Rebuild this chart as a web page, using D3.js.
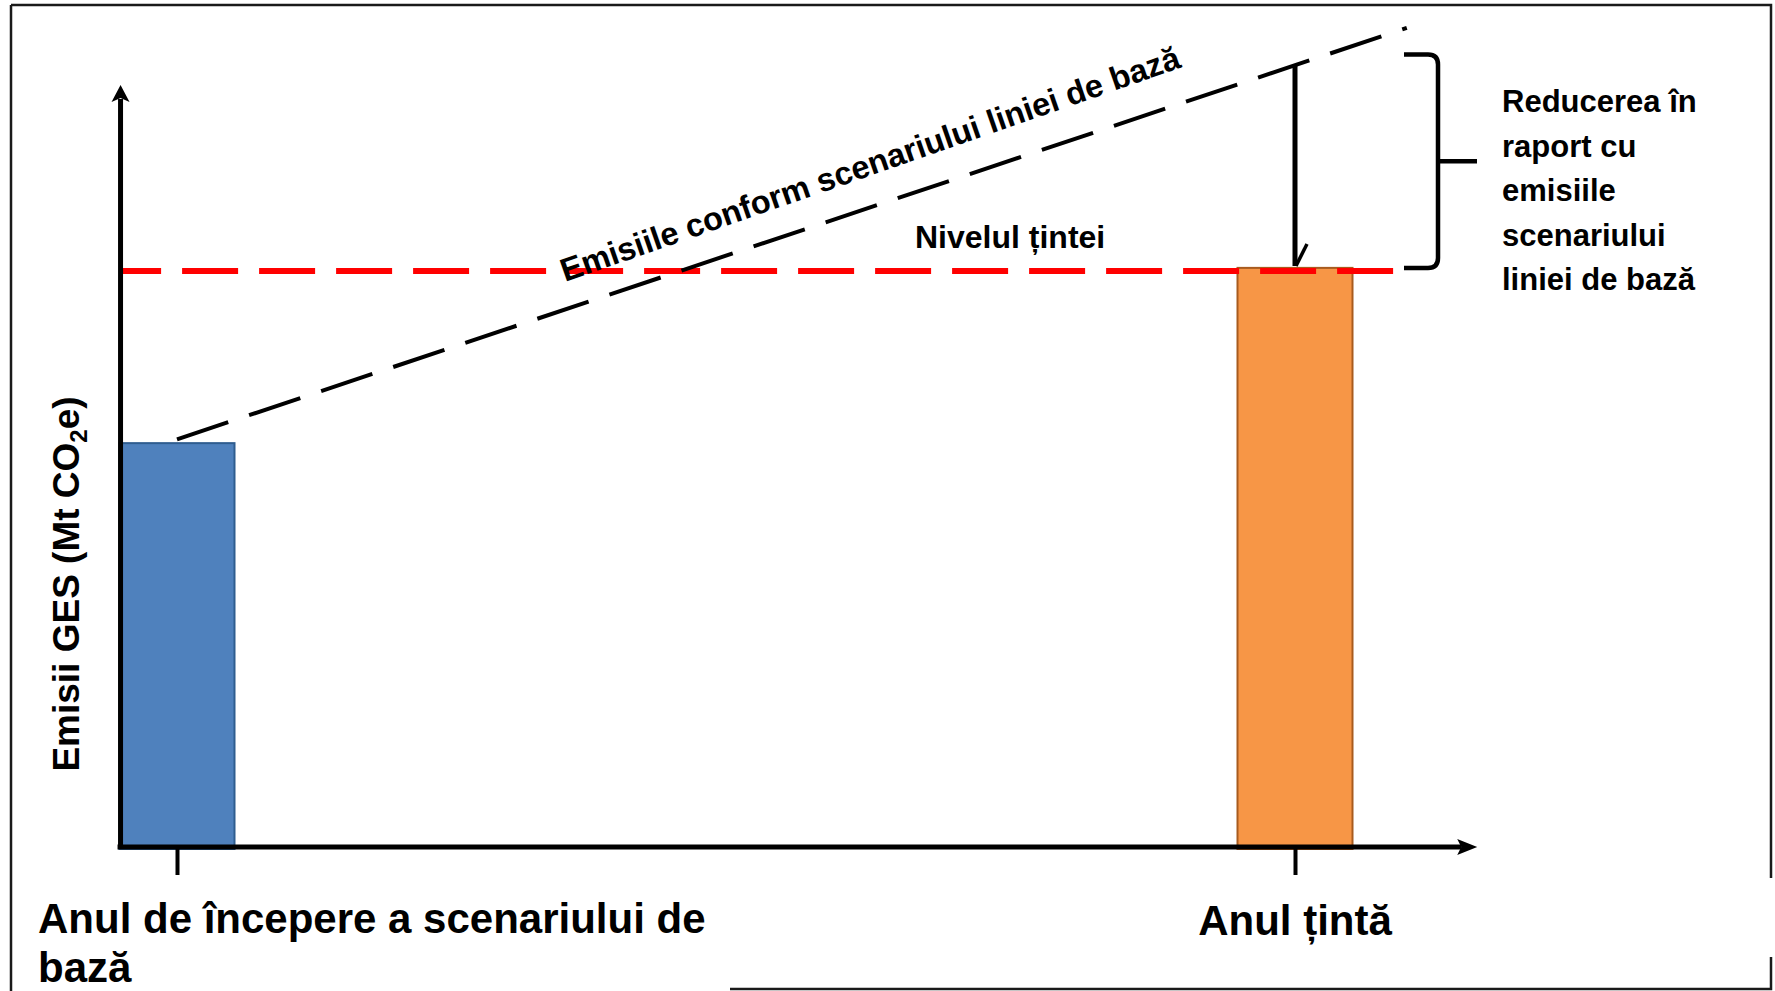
<!DOCTYPE html>
<html>
<head>
<meta charset="utf-8">
<script src="https://cdn.jsdelivr.net/npm/d3@7"></script>
<style>
  html, body { margin: 0; padding: 0; background: #fff; }
  svg { display: block; }
  text { font-family: "Liberation Sans", Arial, sans-serif; font-weight: bold; fill: #000; }
</style>
</head>
<body>
<svg id="chart" width="1775" height="991"></svg>
<script>
// ---- data ----
const categories = ["Anul de începere a scenariului de bază", "Anul țintă"];
const categoryYears = [0, 10];
const barValues = [53, 76];
const baselineYears = [0, 11];
const baselineValues = [53.5, 107.5];
const targetLevel = 75.6;
const targetSpan = [-0.5, 10.88];
const yAxisLabel = "Emisii GES (Mt CO";
const baselineLabel = "Emisiile conform scenariului liniei de bază";
const targetLabel = "Nivelul țintei";
const reductionLabel = ["Reducerea în", "raport cu", "emisiile", "scenariului", "liniei de bază"];

// ---- layout ----
const svg = d3.select("#chart");
const x = d3.scaleLinear().domain([0, 10]).range([177, 1295]);
const y = d3.scaleLinear().domain([0, 100]).range([847, 85]);
const barW = 115;

// frame
const frame = svg.append("g").attr("stroke", "#1a1a1a").attr("stroke-width", 2.5).attr("fill", "none");
frame.append("path").attr("d", "M11,5 L1771,5 L1771,878 M1771,957 L1771,989 L730,989 M11,5 L11,991");

// bars
const barColors = [{fill: "#4F81BD", stroke: "#2F5D8F"}, {fill: "#F79646", stroke: "#A85B1E"}];
svg.append("g").selectAll("rect").data(barValues).join("rect")
  .attr("x", (d, i) => x(categoryYears[i]) - barW / 2)
  .attr("y", d => y(d))
  .attr("width", barW)
  .attr("height", d => y(0) - y(d) + 2)
  .attr("fill", (d, i) => barColors[i].fill)
  .attr("stroke", (d, i) => barColors[i].stroke)
  .attr("stroke-width", 2);

// target level (red dashed)
svg.append("line")
  .attr("x1", x(targetSpan[0])).attr("x2", x(targetSpan[1]))
  .attr("y1", y(targetLevel)).attr("y2", y(targetLevel))
  .attr("stroke", "#FF0000").attr("stroke-width", 6)
  .attr("stroke-dasharray", "56,21").attr("stroke-dashoffset", 16);

// baseline scenario (black dashed)
const baselinePts = baselineYears.map((t, i) => [t, baselineValues[i]]);
svg.append("path")
  .datum(baselinePts)
  .attr("d", d3.line().x(d => x(d[0])).y(d => y(d[1])))
  .attr("fill", "none").attr("stroke", "#000").attr("stroke-width", 4)
  .attr("stroke-dasharray", "54,22");

// axes
const xAxisG = svg.append("g").attr("transform", `translate(0,${y(0)})`)
  .call(d3.axisBottom(x).tickValues(categoryYears).tickFormat("").tickSizeInner(28).tickSizeOuter(0));
xAxisG.select(".domain").remove();
xAxisG.selectAll(".tick line").attr("stroke", "#000").attr("stroke-width", 4);

const x0 = x(-0.505), x1 = x(11.63);
svg.append("line").attr("x1", x0 - 3).attr("x2", x1 - 16).attr("y1", y(0)).attr("y2", y(0))
  .attr("stroke", "#000").attr("stroke-width", 5);
svg.append("path")
  .attr("d", `M${x1},${y(0)} L${x1 - 20},${y(0) - 8} L${x1 - 16},${y(0)} L${x1 - 20},${y(0) + 8} Z`)
  .attr("fill", "#000");

const yTop = y(100);
svg.append("line").attr("x1", x0).attr("x2", x0).attr("y1", y(0) + 2).attr("y2", yTop + 14)
  .attr("stroke", "#000").attr("stroke-width", 5);
svg.append("path")
  .attr("d", `M${x0},${yTop} L${x0 - 9},${yTop + 17} L${x0},${yTop + 13} L${x0 + 9},${yTop + 17} Z`)
  .attr("fill", "#000");

// category labels
const labelLines = [["Anul de începere a scenariului de", "bază"], [categories[1]]];
svg.append("text").attr("x", 38).attr("y", 933).attr("font-size", 42)
  .selectAll("tspan").data(labelLines[0]).join("tspan")
  .attr("x", 38).attr("dy", (d, i) => i === 0 ? 0 : 49).text(d => d);
svg.append("text").attr("x", x(categoryYears[1])).attr("y", 935).attr("font-size", 42)
  .attr("text-anchor", "middle").text(labelLines[1][0]);

// y axis label
const yl = svg.append("text").attr("transform", "translate(79,584) rotate(-90)")
  .attr("text-anchor", "middle").attr("font-size", 37);
yl.append("tspan").text(yAxisLabel);
yl.append("tspan").attr("font-size", 24).attr("dy", 8).text("2");
yl.append("tspan").attr("dy", -8).text("e)");

// baseline label (rotated)
svg.append("text").attr("transform", "translate(565,282) rotate(-19.2)")
  .attr("font-size", 32.5).text(baselineLabel);

// target label
svg.append("text").attr("x", 915).attr("y", 248).attr("font-size", 32).text(targetLabel);

// reduction arrow at target year
const tX = x(categoryYears[1]);
const baseAtTarget = baselineValues[0] + (baselineValues[1] - baselineValues[0]) *
  (categoryYears[1] - baselineYears[0]) / (baselineYears[1] - baselineYears[0]);
const arrowTipY = y(targetLevel) - 5;
svg.append("line").attr("x1", tX).attr("x2", tX).attr("y1", y(baseAtTarget)).attr("y2", arrowTipY)
  .attr("stroke", "#000").attr("stroke-width", 5);
svg.append("line").attr("x1", tX + 12).attr("x2", tX + 1).attr("y1", arrowTipY - 22).attr("y2", arrowTipY)
  .attr("stroke", "#000").attr("stroke-width", 3.5);

// brace
const bTop = y(104), bBot = y(76), bMid = (bTop + bBot) / 2;
const bx0 = 1404, bx1 = 1438, bx2 = 1477;
svg.append("path")
  .attr("d", `M${bx0},${bTop} L${bx1 - 10},${bTop} Q${bx1},${bTop} ${bx1},${bTop + 10} L${bx1},${bBot - 10} Q${bx1},${bBot} ${bx1 - 10},${bBot} L${bx0},${bBot} M${bx1},${bMid} L${bx2},${bMid}`)
  .attr("fill", "none").attr("stroke", "#000").attr("stroke-width", 4.5);

// reduction label
svg.append("text").attr("x", 1502).attr("y", 112).attr("font-size", 31)
  .selectAll("tspan").data(reductionLabel).join("tspan")
  .attr("x", 1502).attr("dy", (d, i) => i === 0 ? 0 : 44.6).text(d => d);
</script>
</body>
</html>
